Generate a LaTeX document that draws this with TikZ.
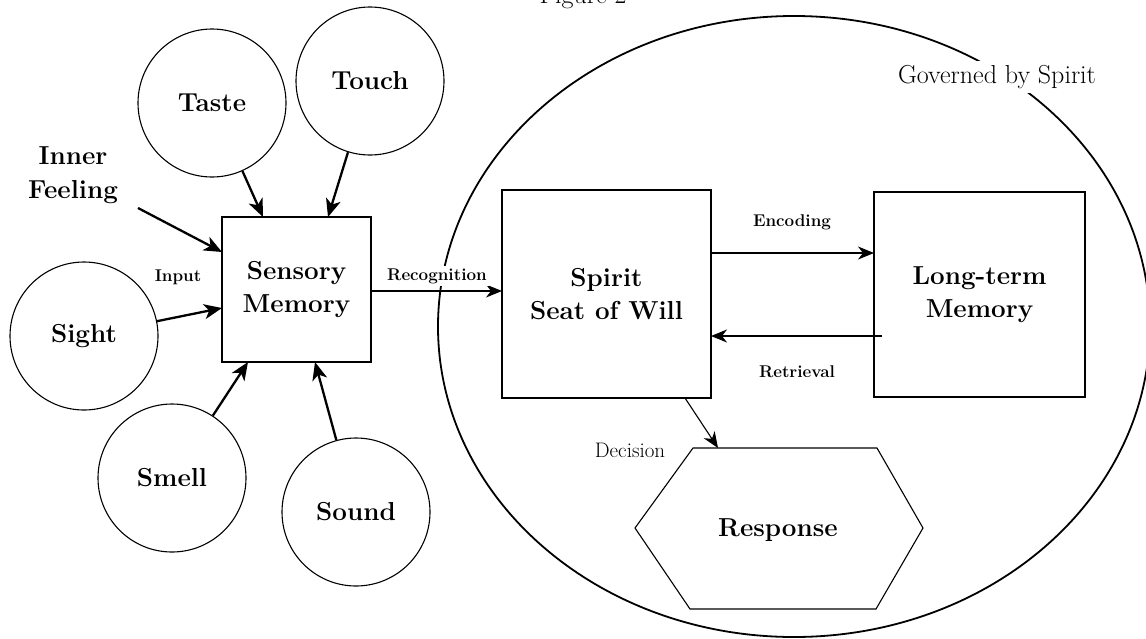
\documentclass[tikz,border=0pt]{standalone}
\usepackage{fontspec}
\usetikzlibrary{arrows.meta,calc}
\begin{document}
\begin{tikzpicture}[x=1pt,y=-1pt,
  sense/.style={circle,draw,line width=1.1pt,minimum size=148pt,inner sep=0pt,
    font=\fontsize{26}{28}\selectfont\bfseries},
  membox/.style={rectangle,draw,line width=1.2pt,inner sep=0pt,align=center,
    font=\fontsize{26}{33}\selectfont\bfseries},
  inarrow/.style={line width=2.3pt,-{Stealth[length=18pt,width=15pt,inset=5pt]}},
  flowarrow/.style={line width=1.1pt,-{Stealth[length=16pt,width=13pt,inset=5pt]}},
  smalllabel/.style={font=\fontsize{17}{19}\selectfont\bfseries},
  plainlabel/.style={font=\fontsize{21}{23}\selectfont}
]
\useasboundingbox (0,0) rectangle (1146,638);

% title (cut at top edge, as in the reference)
\node[anchor=base,font=\fontsize{26}{30}\selectfont] (title) at (583,3) {Figure 2};

% governing ellipse
\draw[line width=1.8pt] (794,326.5) ellipse [x radius=356pt, y radius=310.5pt];
\node[fill=white,inner sep=4pt,font=\fontsize{26}{28}\selectfont] (gov) at (997,77) {Governed by Spirit};

% sense circles
\node[sense] (taste) at (212,103) {Taste};
\node[sense] (touch) at (370,81) {Touch};
\node[sense] (sight) at (84,336) {Sight};
\node[sense] (smell) at (172,478) {Smell};
\node[sense] (sound) at (356,512) {Sound};
\node[align=center,font=\fontsize{26}{34}\selectfont\bfseries] (inner) at (73,175) {Inner\\Feeling};

% memory boxes
\node[membox,minimum width=149pt,minimum height=145pt] (sens) at (296.5,289.5) {Sensory\\Memory};
\node[membox,minimum width=209pt,minimum height=208pt] (spirit) at (606.5,294) {Spirit\\Seat of Will};
\node[membox,minimum width=211pt,minimum height=205pt] (ltm) at (979.5,294.5) {Long-term\\Memory};

% response hexagon
\coordinate (h1) at (693,448);
\coordinate (h2) at (877,448);
\coordinate (h3) at (923,528);
\coordinate (h4) at (876,609);
\coordinate (h5) at (690,609);
\coordinate (h6) at (635,528);
\draw[line width=1.1pt] (h1) -- (h2) -- (h3) -- (h4) -- (h5) -- (h6) -- cycle;
\node[font=\fontsize{26}{28}\selectfont\bfseries] (resp) at (778,530) {Response};

% arrow end points on the boxes
\coordinate (ifStart) at (138,208);
\coordinate (sensIF) at (222,252);
\coordinate (sensTa) at (263,217);
\coordinate (sensTo) at (328,217);
\coordinate (sensSi) at (222,308);
\coordinate (sensSm) at (248,362);
\coordinate (sensSo) at (315,362);
\coordinate (recStart) at (371,291);
\coordinate (recEnd) at (502,291);
\coordinate (encStart) at (711,253);
\coordinate (encEnd) at (874,253);
\coordinate (retStart) at (882,336);
\coordinate (retEnd) at (711,336);
\coordinate (decStart) at (685,398);
\coordinate (hexN) at (718,448);

% input arrows
\draw[inarrow] (ifStart) -- (sensIF);
\draw[inarrow] (taste) -- (sensTa);
\draw[inarrow] (touch) -- (sensTo);
\draw[inarrow] (sight) -- (sensSi);
\draw[inarrow] (smell) -- (sensSm);
\draw[inarrow] (sound) -- (sensSo);

% flow arrows
\draw[flowarrow] (recStart) -- (recEnd);
\draw[flowarrow] (encStart) -- (encEnd);
\draw[flowarrow] (retStart) -- (retEnd);
\draw[flowarrow] (decStart) -- (hexN);

% labels
\node[smalllabel] (lin) at (178,277) {Input};
\node[smalllabel,fill=white,inner sep=2pt] (lrec) at (437,276) {Recognition};
\node[smalllabel] (lenc) at (792,222) {Encoding};
\node[smalllabel] (lret) at (797,372) {Retrieval};
\node[plainlabel] (ldec) at (630,450) {Decision};
\end{tikzpicture}
\end{document}
